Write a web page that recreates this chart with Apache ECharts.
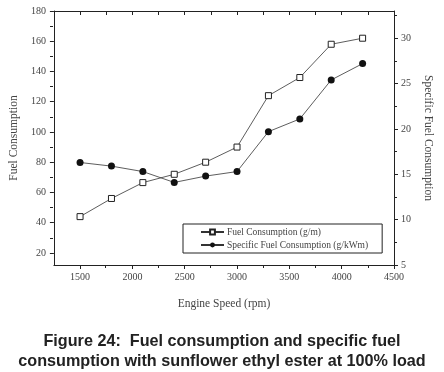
<!DOCTYPE html>
<html>
<head>
<meta charset="utf-8">
<script src="https://cdn.jsdelivr.net/npm/echarts@6/dist/echarts.min.js"></script>
<style>
  html, body { margin: 0; padding: 0; background: #fff; }
  #chart { width: 444px; height: 372px; }
</style>
</head>
<body>
<div id="chart"></div>
<script>
// engine speed (rpm)
const speeds = [1500, 1800, 2100, 2400, 2700, 3000, 3300, 3600, 3900, 4200];
// fuel consumption (g/m), left axis
const fuelConsumption = [44, 56, 66.5, 72, 80, 90, 124, 136, 158, 162];
// specific fuel consumption (g/kWm), right axis
const specificFuel = [16.3, 15.9, 15.3, 14.1, 14.8, 15.3, 19.7, 21.1, 25.4, 27.2];

const xMajor = [1500, 2000, 2500, 3000, 3500, 4000, 4500];
const xMinor = [1750, 2250, 2750, 3250, 3750, 4250];
const xTop = [1500, 1750, 2000, 2250, 2500, 2750, 3000, 3250, 3500, 3750, 4000, 4250];
const leftMajor = [20, 40, 60, 80, 100, 120, 140, 160, 180];
const leftMinor = [30, 50, 70, 90, 110, 130, 150, 170];
const rightMajor = [5, 10, 15, 20, 25, 30];
const rightMinor = [7.5, 12.5, 17.5, 22.5, 27.5, 32.5];

const SERIF = 'Liberation Serif';
const AXIS_COLOR = '#222';
const TEXT_COLOR = '#444';

const chart = echarts.init(document.getElementById('chart'));

const gridBox = { left: 53, top: 11, right: 50, bottom: 107, containLabel: false };
const lineStyle = { color: AXIS_COLOR, width: 1 };
const plain = (v) => String(v);

const option = {
  animation: false,
  backgroundColor: '#fff',
  title: {
    text: 'Figure 24:  Fuel consumption and specific fuel\nconsumption with sunflower ethyl ester at 100% load',
    left: 'center',
    top: 327,
    textStyle: {
      fontFamily: 'Liberation Sans',
      fontWeight: 'bold',
      fontSize: 16.2,
      lineHeight: 19.5,
      color: '#222'
    }
  },
  legend: {
    left: 183,
    top: 224,
    orient: 'vertical',
    borderColor: AXIS_COLOR,
    borderWidth: 1,
    padding: [3, 14, 3, 17],
    itemGap: 3,
    itemWidth: 23,
    itemHeight: 6,
    textStyle: { fontFamily: SERIF, fontSize: 9.5, color: TEXT_COLOR, padding: [0, 0, 0, -2] },
    data: ['Fuel Consumption (g/m)', 'Specific Fuel Consumption (g/kWm)']
  },
  grid: [gridBox, gridBox],
  xAxis: [
    {
      type: 'value', gridIndex: 0, position: 'bottom',
      min: 1250, max: 4500,
      name: 'Engine Speed (rpm)', nameLocation: 'middle', nameGap: 33,
      nameTextStyle: { fontFamily: SERIF, fontSize: 11.5, color: TEXT_COLOR },
      axisLine: { show: true, onZero: false, lineStyle },
      axisTick: { show: true, inside: false, length: 4, customValues: xMajor, lineStyle },
      axisLabel: { customValues: xMajor, formatter: plain, fontFamily: SERIF, fontSize: 10, color: TEXT_COLOR, margin: 7 },
      splitLine: { show: false }
    },
    {
      type: 'value', gridIndex: 0, position: 'top',
      min: 1250, max: 4500,
      axisLine: { show: true, onZero: false, lineStyle },
      axisTick: { show: true, inside: true, length: 4, customValues: xTop, lineStyle },
      axisLabel: { show: false },
      splitLine: { show: false }
    },
    {
      type: 'value', gridIndex: 1, position: 'bottom',
      min: 1250, max: 4500,
      axisLine: { show: false },
      axisTick: { show: true, inside: false, length: 3, customValues: xMinor, lineStyle },
      axisLabel: { show: false },
      splitLine: { show: false }
    }
  ],
  yAxis: [
    {
      type: 'value', gridIndex: 0, position: 'left',
      min: 12, max: 180,
      name: 'Fuel Consumption', nameLocation: 'middle', nameGap: 32, nameRotate: 90,
      nameTextStyle: { fontFamily: SERIF, fontSize: 11.5, color: TEXT_COLOR },
      axisLine: { show: true, onZero: false, lineStyle },
      axisTick: { show: true, inside: false, length: 4, customValues: leftMajor, lineStyle },
      axisLabel: { customValues: leftMajor, formatter: plain, fontFamily: SERIF, fontSize: 10, color: TEXT_COLOR, margin: 8 },
      splitLine: { show: false }
    },
    {
      type: 'value', gridIndex: 0, position: 'right',
      min: 5, max: 33,
      name: 'Specific Fuel Consumption', nameLocation: 'middle', nameGap: 22, nameRotate: -90,
      nameTextStyle: { fontFamily: SERIF, fontSize: 11.5, color: TEXT_COLOR },
      axisLine: { show: true, onZero: false, lineStyle },
      axisTick: { show: true, inside: false, length: 4, customValues: rightMajor, lineStyle },
      axisLabel: { customValues: rightMajor, formatter: plain, fontFamily: SERIF, fontSize: 10, color: TEXT_COLOR, margin: 7 },
      splitLine: { show: false }
    },
    {
      type: 'value', gridIndex: 1, position: 'left',
      min: 12, max: 180,
      axisLine: { show: false },
      axisTick: { show: true, inside: false, length: 3, customValues: leftMinor, lineStyle },
      axisLabel: { show: false },
      splitLine: { show: false }
    },
    {
      type: 'value', gridIndex: 1, position: 'right',
      min: 5, max: 33,
      axisLine: { show: false },
      axisTick: { show: true, inside: false, length: 3, customValues: rightMinor, lineStyle },
      axisLabel: { show: false },
      splitLine: { show: false }
    }
  ],
  series: [
    {
      name: 'Fuel Consumption (g/m)',
      type: 'line',
      xAxisIndex: 0, yAxisIndex: 0,
      data: speeds.map((s, i) => [s, fuelConsumption[i]]),
      symbol: 'rect',
      symbolSize: 6,
      itemStyle: { color: '#fff', borderColor: AXIS_COLOR, borderWidth: 1 },
      lineStyle: { color: '#333', width: 0.8 },
      emphasis: { disabled: true }
    },
    {
      name: 'Specific Fuel Consumption (g/kWm)',
      type: 'line',
      xAxisIndex: 0, yAxisIndex: 1,
      data: speeds.map((s, i) => [s, specificFuel[i]]),
      symbol: 'circle',
      symbolSize: 7,
      itemStyle: { color: '#111', borderColor: '#111', borderWidth: 0 },
      lineStyle: { color: '#333', width: 0.8 },
      emphasis: { disabled: true }
    }
  ]
};

chart.setOption(option);
</script>
</body>
</html>
